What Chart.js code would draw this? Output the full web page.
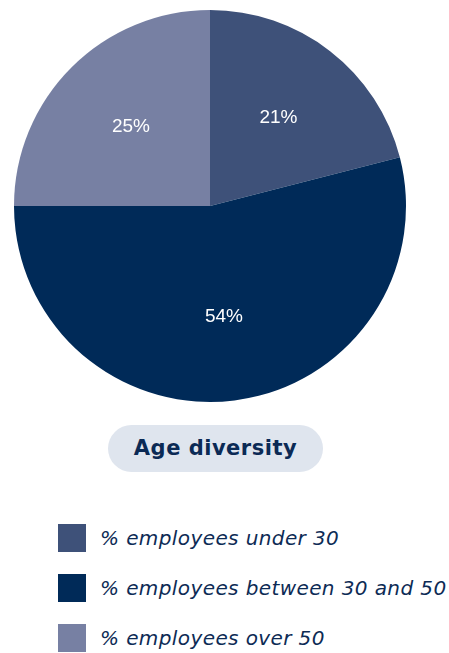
<!DOCTYPE html>
<html>
<head>
<meta charset="utf-8">
<script src="https://cdn.jsdelivr.net/npm/chart.js@4/dist/chart.umd.min.js"></script>
<style>
  body { margin: 0; background: #fff; width: 449px; height: 653px; position: relative; overflow: hidden; }
  #wrap { position: absolute; left: 0; top: 0; width: 420px; height: 412px; }
  #title {
    position: absolute; left: 108px; top: 425px; width: 215px; height: 47px;
    border-radius: 24px; background: #dfe5ee; color: #0b2a55;
    font: bold 21px "DejaVu Sans", sans-serif; letter-spacing: 0.5px; text-align: center; line-height: 47px;
  }
  #legend { position: absolute; left: 58px; top: 524px; }
  .row { display: flex; align-items: center; height: 28px; margin-bottom: 22px; }
  .sw { width: 28px; height: 28px; margin-right: 14px; }
  .lbl { font: oblique 20px "DejaVu Sans", sans-serif; letter-spacing: 0.4px; color: #0d2b55; white-space: nowrap; }
</style>
</head>
<body>
<div id="wrap"><canvas id="pie"></canvas></div>
<div id="title">Age diversity</div>
<div id="legend"></div>
<script>
const categories = ['% employees under 30', '% employees between 30 and 50', '% employees over 50'];
const shares = [21, 54, 25];
const colors = ['#3e5179', '#002a58', '#7780a3'];

const sliceLabels = {
    id: 'sliceLabels',
    afterDatasetsDraw(chart) {
        const ctx = chart.ctx;
        const meta = chart.getDatasetMeta(0);
        ctx.save();
        ctx.fillStyle = '#ffffff';
        ctx.font = '19px "Liberation Sans", Arial, sans-serif';
        ctx.textAlign = 'center';
        ctx.textBaseline = 'middle';
        meta.data.forEach((arc, i) => {
            const p = arc.getProps(['x', 'y', 'startAngle', 'endAngle', 'outerRadius']);
            const mid = (p.startAngle + p.endAngle) / 2;
            const r = p.outerRadius * 0.57;
            ctx.fillText(shares[i] + '%', p.x + Math.cos(mid) * r, p.y + Math.sin(mid) * r);
        });
        ctx.restore();
    }
};

new Chart(document.getElementById('pie'), {
    type: 'pie',
    data: {
        labels: categories,
        datasets: [{
            data: shares,
            backgroundColor: colors,
            borderWidth: 0
        }]
    },
    options: {
        responsive: true,
        maintainAspectRatio: false,
        animation: false,
        layout: { padding: { left: 14, right: 14, top: 10, bottom: 10 } },
        plugins: {
            legend: { display: false },
            tooltip: { enabled: false }
        }
    },
    plugins: [sliceLabels]
});

const legend = document.getElementById('legend');
categories.forEach((name, i) => {
    const row = document.createElement('div');
    row.className = 'row';
    row.innerHTML = `<div class="sw" style="background:${colors[i]}"></div><div class="lbl">${name}</div>`;
    legend.appendChild(row);
});
</script>
</body>
</html>
